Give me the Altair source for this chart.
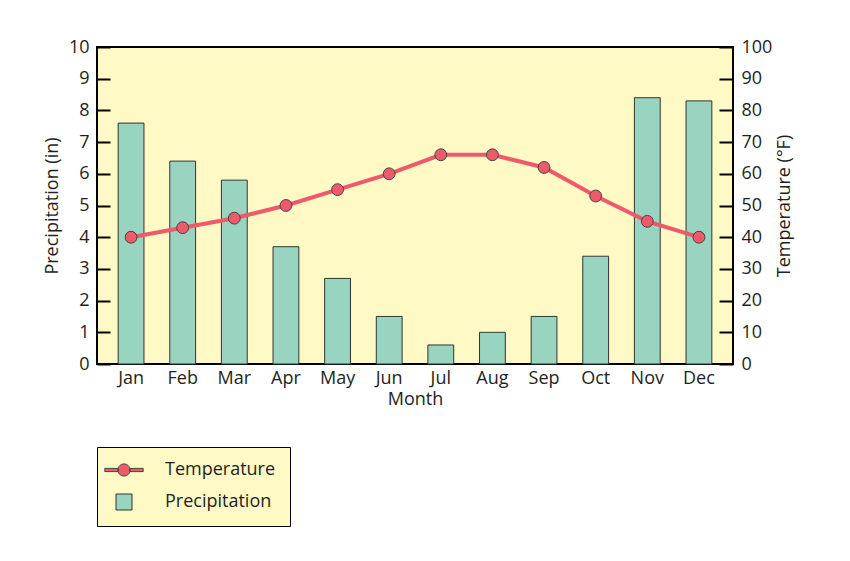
import altair as alt
import pandas as pd

months = ["Jan", "Feb", "Mar", "Apr", "May", "Jun", "Jul", "Aug", "Sep", "Oct", "Nov", "Dec"]
precip = [7.6, 6.4, 5.8, 3.7, 2.7, 1.5, 0.6, 1.0, 1.5, 3.4, 8.4, 8.3]
temp = [40, 43, 46, 50, 55, 60, 66, 66, 62, 53, 45, 40]
series = ["Temperature", "Precipitation"]
left_ticks = list(range(0, 11))
right_ticks = list(range(0, 101, 10))

df = pd.DataFrame({
    "Month": months,
    "Precip": precip,
    "Temp": temp,
    "s": ["Temperature"] * len(months),
})

FONT = "Open Sans"
TEXT = "#231f20"
RED = "#ef5a6b"
TEAL = "#98d4bf"
BG = "#fff9c6"

temp_path = ("M-2.4,-0.2L-0.74,-0.2L-0.74,0.2L-2.4,0.2Z "
             "M0.74,-0.2L2.4,-0.2L2.4,0.2L0.74,0.2Z "
             "M0.76,0A0.76,0.76 0 1,1 -0.76,0A0.76,0.76 0 1,1 0.76,0Z")

legend = alt.Legend(
    title=None, orient="none", legendX=0, legendY=400,
    fillColor=BG, strokeColor="black", padding=14,
    symbolSize=256, labelFontSize=18, labelFont=FONT, labelColor=TEXT,
    rowPadding=13, symbolOffset=4, labelOffset=32,
    symbolStrokeColor="#333", symbolStrokeWidth=1, symbolOpacity=1,
)

xenc = alt.X("Month:N", sort=months,
             scale=alt.Scale(paddingInner=0.5, paddingOuter=0.41),
             axis=alt.Axis(title="Month", ticks=False, domain=False, labelAngle=0,
                           labelPadding=5, titlePadding=3))

y_temp = alt.Y("Temp:Q", scale=alt.Scale(domain=[0, 100], nice=False),
               axis=alt.Axis(orient="right", values=right_ticks, title="Temperature (°F)",
                             offset=-14, tickSize=14, tickWidth=2, tickColor="black",
                             domain=False, grid=False, labelPadding=8, titlePadding=4,
                             titleAngle=270, titleBaseline="top"))

base = alt.Chart(df)

bars = base.mark_bar(fill=TEAL, stroke="#333", strokeWidth=1).encode(
    x=xenc,
    y=alt.Y("Precip:Q", scale=alt.Scale(domain=[0, 10], nice=False),
            axis=alt.Axis(orient="left", values=left_ticks, title="Precipitation (in)",
                          offset=-13, tickSize=13, tickWidth=2, tickColor="black",
                          domain=False, grid=False, labelPadding=8, titlePadding=7)),
)

line = base.mark_line(color=RED, strokeWidth=4).encode(x=xenc, y=y_temp)

points = base.mark_point(filled=True, fill=RED, stroke="#444", strokeWidth=1,
                         size=140, opacity=1).encode(x=xenc, y=y_temp)

legend_layer = base.transform_filter("false").mark_point(
    filled=True, strokeWidth=1, opacity=1
).encode(
    x=xenc, y=y_temp,
    color=alt.Color("s:N", scale=alt.Scale(domain=series, range=[RED, TEAL]),
                    legend=legend, title=None),
    shape=alt.Shape("s:N", scale=alt.Scale(domain=series, range=[temp_path, "square"]),
                    legend=legend, title=None),
    stroke=alt.Stroke("s:N", scale=alt.Scale(domain=series, range=["#444", "#333"]),
                      legend=legend, title=None),
)

chart = alt.layer(bars, alt.layer(line, points, legend_layer)).resolve_scale(
    y="independent"
).properties(
    width=636, height=317,
    autosize=alt.AutoSizeParams(type="none"),
    padding={"left": 89, "top": 39, "right": 105, "bottom": 185},
).configure_view(
    fill=BG, stroke="black", strokeWidth=2,
).configure_axis(
    labelFont=FONT, labelFontSize=18, labelColor=TEXT,
    titleFont=FONT, titleFontSize=18, titleColor=TEXT, titleFontWeight="normal",
)

chart.save("out.html", embed_options={"renderer": "svg", "actions": False})
